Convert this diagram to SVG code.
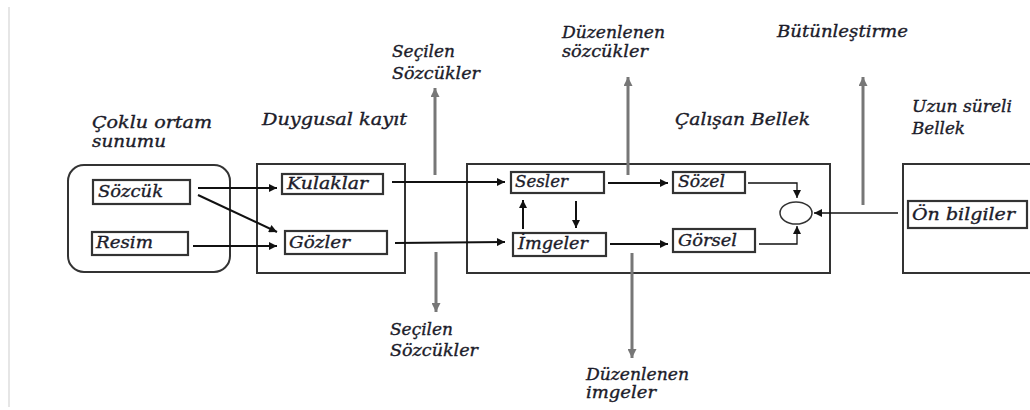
<svg xmlns="http://www.w3.org/2000/svg" width="1030" height="410" viewBox="0 0 1030 410">
  <defs>
    <marker id="arrBlack" viewBox="0 0 10 10" refX="10" refY="5" markerWidth="9" markerHeight="8" markerUnits="userSpaceOnUse" orient="auto">
      <path d="M0,0 L10,5 L0,10 z" fill="#111"/>
    </marker>
    <marker id="arrGray" viewBox="0 0 10 10" refX="10" refY="5" markerWidth="9" markerHeight="9" markerUnits="userSpaceOnUse" orient="auto">
      <path d="M0,0 L10,5 L0,10 z" fill="#777"/>
    </marker>
    <style>
      .lbl, .ttl { font-family: "DejaVu Serif", "Liberation Serif", serif; font-style: italic; font-size: 16.5px; fill: #1c1c2a; stroke: #1c1c2a; stroke-width: 0.35; }
      .frame { fill: #fff; stroke: #333; stroke-width: 2; }
      .item { fill: #fff; stroke: #333; stroke-width: 2.2; }
      .flow { fill: none; stroke: #111; stroke-width: 2; marker-end: url(#arrBlack); }
      .thin { fill: none; stroke: #111; stroke-width: 1.3; marker-end: url(#arrBlack); }
      .gray { fill: none; stroke: #777; stroke-width: 3; marker-end: url(#arrGray); }
    </style>
  </defs>

  <rect width="1030" height="410" fill="#fff"/>
  <!-- page edge line -->
  <line x1="9" y1="7" x2="9" y2="407" stroke="#e6e6e6" stroke-width="2"/>

  <!-- Multimedia presentation -->
  <g id="coklu-ortam">
    <text class="ttl" x="92" y="128" textLength="120" lengthAdjust="spacingAndGlyphs">&#199;oklu ortam</text>
    <text class="ttl" x="92" y="147" textLength="74" lengthAdjust="spacingAndGlyphs">sunumu</text>
    <rect class="frame" x="68" y="165" width="162" height="107" rx="16" ry="16"/>
  </g>
  <g id="sozcuk">
    <rect class="item" x="93" y="180" width="97" height="24"/>
    <text class="lbl" x="98" y="197" textLength="65" lengthAdjust="spacingAndGlyphs">S&#246;zc&#252;k</text>
  </g>
  <g id="resim">
    <rect class="item" x="92" y="232" width="96" height="23"/>
    <text class="lbl" x="96" y="248" textLength="57" lengthAdjust="spacingAndGlyphs">Resim</text>
  </g>

  <!-- Sensory register -->
  <g id="duygusal-kayit">
    <text class="ttl" x="262" y="125" textLength="145" lengthAdjust="spacingAndGlyphs">Duygusal kay&#305;t</text>
    <rect class="frame" x="257" y="164" width="148" height="109"/>
  </g>
  <g id="kulaklar">
    <rect class="item" x="282" y="174" width="101" height="20"/>
    <text class="lbl" x="287" y="189" textLength="81" lengthAdjust="spacingAndGlyphs">Kulaklar</text>
  </g>
  <g id="gozler">
    <rect class="item" x="285" y="231" width="102" height="23"/>
    <text class="lbl" x="289" y="248" textLength="61" lengthAdjust="spacingAndGlyphs">G&#246;zler</text>
  </g>

  <!-- Working memory -->
  <g id="calisan-bellek">
    <text class="ttl" x="675" y="125" textLength="135" lengthAdjust="spacingAndGlyphs">&#199;al&#305;&#351;an Bellek</text>
    <rect class="frame" x="467" y="164" width="363" height="109"/>
  </g>
  <g id="sesler">
    <rect class="item" x="511" y="172" width="93" height="21"/>
    <text class="lbl" x="515" y="187" textLength="53" lengthAdjust="spacingAndGlyphs">Sesler</text>
  </g>
  <g id="imgeler">
    <rect class="item" x="513" y="233" width="93" height="23"/>
    <text class="lbl" x="518" y="249" textLength="70" lengthAdjust="spacingAndGlyphs">&#304;mgeler</text>
  </g>
  <g id="sozel">
    <rect class="item" x="673" y="172" width="72" height="21"/>
    <text class="lbl" x="678" y="187" textLength="47" lengthAdjust="spacingAndGlyphs">S&#246;zel</text>
  </g>
  <g id="gorsel">
    <rect class="item" x="673" y="229" width="82" height="23"/>
    <text class="lbl" x="678" y="246" textLength="59" lengthAdjust="spacingAndGlyphs">G&#246;rsel</text>
  </g>
  <g id="birlesim">
    <ellipse cx="796" cy="213" rx="16" ry="11" fill="#fff" stroke="#333" stroke-width="1.5"/>
  </g>

  <!-- Long-term memory -->
  <g id="uzun-sureli-bellek">
    <text class="ttl" x="912" y="112" textLength="100" lengthAdjust="spacingAndGlyphs">Uzun s&#252;reli</text>
    <text class="ttl" x="912" y="134" textLength="53" lengthAdjust="spacingAndGlyphs">Bellek</text>
    <rect class="frame" x="903" y="164" width="140" height="109"/>
  </g>
  <g id="on-bilgiler">
    <rect class="item" x="908" y="201" width="119" height="27"/>
    <text class="lbl" x="912" y="220" textLength="103" lengthAdjust="spacingAndGlyphs">&#214;n bilgiler</text>
  </g>

  <!-- Output labels -->
  <g id="secilen-ust">
    <text class="ttl" x="392" y="57" textLength="63" lengthAdjust="spacingAndGlyphs">Se&#231;ilen</text>
    <text class="ttl" x="392" y="79" textLength="88" lengthAdjust="spacingAndGlyphs">S&#246;zc&#252;kler</text>
  </g>
  <g id="secilen-alt">
    <text class="ttl" x="390" y="335" textLength="63" lengthAdjust="spacingAndGlyphs">Se&#231;ilen</text>
    <text class="ttl" x="390" y="356" textLength="88" lengthAdjust="spacingAndGlyphs">S&#246;zc&#252;kler</text>
  </g>
  <g id="duzenlenen-sozcukler">
    <text class="ttl" x="562" y="38" textLength="103" lengthAdjust="spacingAndGlyphs">D&#252;zenlenen</text>
    <text class="ttl" x="562" y="57" textLength="86" lengthAdjust="spacingAndGlyphs">s&#246;zc&#252;kler</text>
  </g>
  <g id="duzenlenen-imgeler">
    <text class="ttl" x="586" y="380" textLength="103" lengthAdjust="spacingAndGlyphs">D&#252;zenlenen</text>
    <text class="ttl" x="586" y="398" textLength="70" lengthAdjust="spacingAndGlyphs">imgeler</text>
  </g>
  <g id="butunlestirme">
    <text class="ttl" x="777" y="37" textLength="131" lengthAdjust="spacingAndGlyphs">B&#252;t&#252;nle&#351;tirme</text>
  </g>

  <!-- Connectors -->
  <g id="connectors">
    <path class="flow" d="M198,188 L277,188"/>
    <path class="flow" d="M198,195 L277,232"/>
    <path class="flow" d="M193,246 L277,246"/>
    <path class="flow" d="M392,182 L505,182"/>
    <path class="flow" d="M395,243 L505,242"/>
    <path class="flow" d="M608,183 L668,183"/>
    <path class="flow" d="M610,244 L668,244"/>
    <path class="flow" d="M523,229 L523,200"/>
    <path class="flow" d="M576,201 L576,228"/>
    <path class="thin" d="M748,183 L797,183 L797,198"/>
    <path class="thin" d="M759,244 L797,244 L797,226"/>
    <path class="thin" d="M898,213 L814,213"/>

    <path class="gray" d="M435,175 L435,88"/>
    <path class="gray" d="M436,252 L436,312"/>
    <path class="gray" d="M628,175 L628,77"/>
    <path class="gray" d="M632,253 L632,358"/>
    <path class="gray" d="M863,205 L863,77"/>
  </g>
</svg>
